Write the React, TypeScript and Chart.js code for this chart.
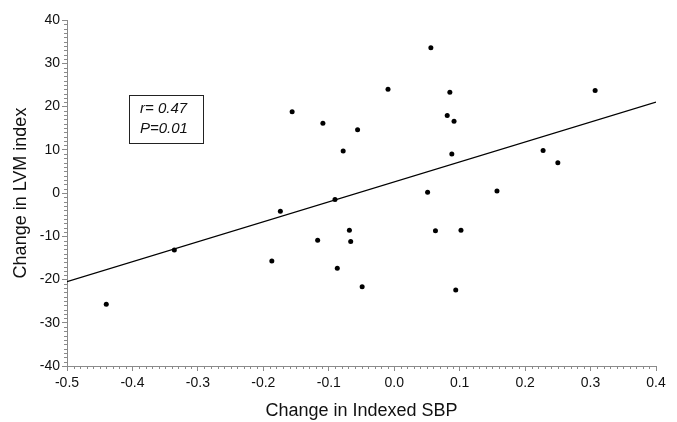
import React, { useEffect, useRef } from "react";
import { Chart, registerables } from "chart.js";

Chart.register(...registerables);

// Change in indexed SBP (x) and change in LVM index (y) for each subject
const sbpChange = [
  -0.44, -0.336, -0.187, -0.174, -0.156, -0.117, -0.109, -0.0905, -0.087, -0.078,
  -0.0685, -0.0665, -0.056, -0.049, -0.0095, 0.051, 0.056, 0.063, 0.081, 0.085,
  0.088, 0.0914, 0.094, 0.102, 0.157, 0.2275, 0.25, 0.307,
];
const lvmChange = [
  -25.7, -13.2, -15.7, -4.2, 18.8, -10.9, 16.1, -1.5, -17.4, 9.7,
  -8.6, -11.2, 14.6, -21.7, 24.0, 0.16, 33.6, -8.7, 17.9, 23.3,
  9.0, 16.6, -22.4, -8.6, 0.46, 9.8, 7.0, 23.7,
];

// Regression line end points
const fitX = [-0.5, 0.4];
const fitY = [-20.5, 21.0];

// Axis ticks
const xTicks = [-0.5, -0.4, -0.3, -0.2, -0.1, 0.0, 0.1, 0.2, 0.3, 0.4];
const yTicks = [-40, -30, -20, -10, 0, 10, 20, 30, 40];

const statsLines = ["r= 0.47", "P=0.01"];
const xTitle = "Change in Indexed SBP";
const yTitle = "Change in LVM index";

const FONT = "'Liberation Sans', Arial, Helvetica, sans-serif";
const AXIS_COLOR = "#8a8a8a";
const TEXT_COLOR = "#111";

const minorTicksPlugin = {
  id: "minorTicks",
  afterDraw(chart: any) {
    const { ctx } = chart;
    const xs = chart.scales.x;
    const ys = chart.scales.y;
    ctx.save();
    ctx.strokeStyle = AXIS_COLOR;
    ctx.lineWidth = 1;
    ctx.beginPath();
    const xMinorCount = Math.round((xs.max - xs.min) / 0.01);
    for (let i = 0; i <= xMinorCount; i++) {
      if (i % 10 === 0) continue;
      const v = xs.min + i * 0.01;
      const px = Math.round(xs.getPixelForValue(v)) + 0.5;
      ctx.moveTo(px, ys.bottom);
      ctx.lineTo(px, ys.bottom + 3);
    }
    const yMinorCount = Math.round(ys.max - ys.min);
    for (let j = 0; j <= yMinorCount; j++) {
      if (j % 10 === 0) continue;
      const v = ys.min + j;
      const py = Math.round(ys.getPixelForValue(v)) + 0.5;
      ctx.moveTo(xs.left, py);
      ctx.lineTo(xs.left - 3, py);
    }
    ctx.stroke();
    ctx.restore();
  },
};

const statsBoxPlugin = {
  id: "statsBox",
  afterDraw(chart: any) {
    const { ctx, chartArea } = chart;
    const left = chartArea.left + 62;
    const top = 95;
    const w = 74;
    const h = 48;
    ctx.save();
    ctx.strokeStyle = "#222";
    ctx.lineWidth = 1;
    ctx.strokeRect(Math.round(left) + 0.5, top + 0.5, w, h);
    ctx.fillStyle = TEXT_COLOR;
    ctx.font = `italic 15px ${FONT}`;
    ctx.textBaseline = "middle";
    ctx.textAlign = "left";
    statsLines.forEach((line, i) => {
      ctx.fillText(line, left + 11, top + 14 + i * 20);
    });
    ctx.restore();
  },
};

export default function App() {
  const canvasRef = useRef<HTMLCanvasElement | null>(null);

  useEffect(() => {
    document.body.style.margin = "0";
    const canvas = canvasRef.current;
    if (!canvas) return;
    const chart = new Chart(canvas, {
      type: "scatter",
      data: {
        datasets: [
          {
            label: "Subjects",
            data: sbpChange.map((x, i) => ({ x, y: lvmChange[i] })),
            pointRadius: 2.5,
            pointHoverRadius: 2.5,
            pointBackgroundColor: "#000",
            pointBorderWidth: 0,
            showLine: false,
          },
          {
            label: "Fit",
            data: fitX.map((x, i) => ({ x, y: fitY[i] })),
            showLine: true,
            pointRadius: 0,
            borderColor: "#000",
            borderWidth: 1.2,
            fill: false,
          },
        ],
      },
      options: {
        animation: false,
        responsive: true,
        maintainAspectRatio: false,
        layout: { padding: { top: 20, right: 21, left: 0, bottom: 0 } },
        plugins: {
          legend: { display: false },
          tooltip: { enabled: false },
        },
        scales: {
          x: {
            type: "linear",
            min: -0.5,
            max: 0.4,
            afterBuildTicks: (s: any) => {
              s.ticks = xTicks.map((value) => ({ value }));
            },
            afterFit: (s: any) => {
              s.height = 56;
            },
            ticks: {
              callback: (v: any) => Number(v).toFixed(1),
              font: { family: FONT, size: 14 },
              color: TEXT_COLOR,
              padding: 4,
              maxRotation: 0,
              autoSkip: false,
            },
            grid: {
              drawOnChartArea: false,
              drawTicks: true,
              tickLength: 5,
              color: AXIS_COLOR,
            },
            border: { display: true, color: AXIS_COLOR },
            title: {
              display: true,
              text: xTitle,
              font: { family: FONT, size: 18 },
              color: TEXT_COLOR,
              padding: { top: 0, bottom: 0 },
            },
          },
          y: {
            type: "linear",
            min: -40,
            max: 40,
            afterBuildTicks: (s: any) => {
              s.ticks = yTicks.map((value) => ({ value }));
            },
            afterFit: (s: any) => {
              s.width = 67;
            },
            ticks: {
              callback: (v: any) => String(v),
              font: { family: FONT, size: 14 },
              color: TEXT_COLOR,
              padding: 2,
              autoSkip: false,
            },
            grid: {
              drawOnChartArea: false,
              drawTicks: true,
              tickLength: 5,
              color: AXIS_COLOR,
            },
            border: { display: true, color: AXIS_COLOR },
            title: {
              display: true,
              text: yTitle,
              font: { family: FONT, size: 18 },
              color: TEXT_COLOR,
              padding: { top: 10, bottom: 0 },
            },
          },
        },
      },
      plugins: [minorTicksPlugin, statsBoxPlugin],
    });
    return () => chart.destroy();
  }, []);

  return (
    <div style={{ position: "fixed", left: 0, top: 0, width: 677, height: 422 }}>
      <canvas ref={canvasRef} />
    </div>
  );
}
